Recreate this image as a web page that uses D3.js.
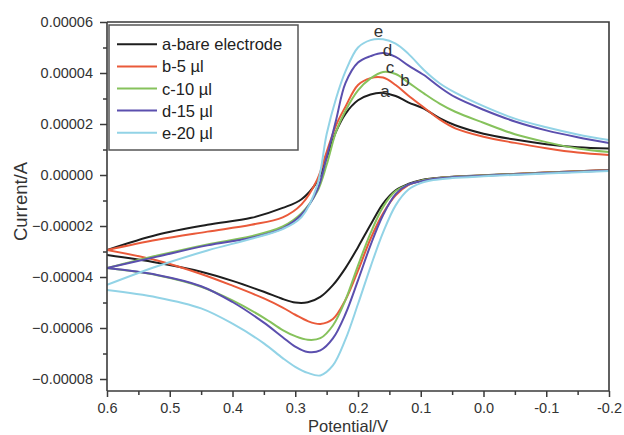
<!DOCTYPE html>
<html>
<head>
<meta charset="utf-8">
<script src="https://cdn.jsdelivr.net/npm/d3@7/dist/d3.min.js"></script>
<style>
  html, body { margin: 0; padding: 0; background: #fff; }
  svg { display: block; font-family: "Liberation Sans", Arial, Helvetica, sans-serif; }
</style>
</head>
<body>
<svg id="chart" width="624" height="435"></svg>
<script>
// Potential grids (V) for the anodic (upper) and cathodic (lower) sweeps
const potentialUpper = [0.6, 0.52, 0.44, 0.37, 0.32, 0.29, 0.265, 0.25, 0.235, 0.22, 0.2, 0.18, 0.16, 0.14, 0.12, 0.095, 0.07, 0.045, 0.0, -0.05, -0.1, -0.15, -0.2];
const potentialLower = [-0.2, -0.1, 0.0, 0.05, 0.08, 0.1, 0.12, 0.14, 0.16, 0.18, 0.2, 0.22, 0.24, 0.26, 0.28, 0.3, 0.32, 0.35, 0.4, 0.45, 0.52, 0.6];

// Current in microamperes for each electrode, upper sweep
const upperA = [-29.4, -23.4, -19.5, -16.8, -12.9, -9.5, -2.5, 6.8, 17.0, 24.0, 29.3, 31.6, 32.2, 31.0, 28.5, 26.0, 22.3, 19.5, 16.2, 13.9, 12.1, 10.9, 10.4];
const upperB = [-29.4, -25.4, -22.2, -19.5, -16.6, -11.5, -1.8, 9.0, 19.5, 26.8, 35.3, 38.0, 38.2, 35.3, 31.2, 26.5, 21.8, 18.3, 15.0, 12.6, 10.5, 8.8, 7.8];
const upperC = [-36.5, -31.6, -27.2, -24.0, -20.2, -15.0, -6.5, 4.0, 17.0, 25.2, 33.2, 37.9, 40.4, 39.6, 36.3, 32.0, 28.0, 24.8, 20.5, 16.0, 12.9, 10.4, 9.0];
const upperD = [-36.5, -32.0, -27.6, -24.6, -20.9, -15.5, -5.9, 7.0, 21.5, 36.0, 44.1, 46.6, 47.8, 46.3, 43.0, 39.2, 34.5, 30.5, 25.6, 21.0, 17.5, 14.8, 12.5];
const upperE = [-43.1, -35.8, -29.6, -25.0, -21.2, -16.5, -4.0, 16.0, 30.0, 40.6, 50.0, 52.9, 53.2, 51.5, 47.6, 41.2, 36.0, 32.3, 27.0, 22.1, 18.7, 15.9, 13.7];

// Current in microamperes for each electrode, lower sweep
const lowerA = [2.0, 1.0, -0.1, -0.7, -1.3, -2.0, -3.5, -6.0, -11.2, -19.5, -28.3, -36.5, -43.2, -47.8, -49.9, -50.0, -48.6, -45.8, -41.5, -37.9, -34.4, -31.4];
const lowerB = [2.0, 1.0, -0.2, -0.8, -1.5, -2.3, -4.0, -8.0, -15.0, -25.0, -37.5, -49.0, -56.5, -58.4, -57.3, -54.8, -52.0, -48.4, -43.4, -38.8, -33.5, -29.4];
const lowerC = [1.8, 0.9, -0.2, -0.8, -1.5, -2.3, -3.8, -6.3, -12.5, -22.8, -35.5, -49.0, -59.0, -64.0, -64.6, -63.2, -60.8, -56.0, -49.2, -43.8, -39.3, -36.5];
const lowerD = [1.8, 0.8, -0.3, -0.9, -1.6, -2.5, -3.8, -7.5, -15.7, -27.5, -41.3, -54.5, -64.1, -68.8, -69.4, -67.3, -63.6, -57.9, -49.8, -43.6, -39.2, -36.5];
const lowerE = [1.6, 0.6, -0.5, -1.2, -2.0, -3.2, -5.8, -11.9, -22.5, -36.0, -50.6, -64.5, -74.7, -78.6, -77.6, -75.2, -71.8, -66.0, -58.3, -52.3, -48.0, -45.1];

const seriesNames = ["a-bare electrode", "b-5 µl", "c-10 µl", "d-15 µl", "e-20 µl"];
const peakTags = ["a", "b", "c", "d", "e"];
const seriesColors = ["#1e1e1e", "#ea5a3a", "#86c25c", "#5b4fae", "#92d3e6"];

const yTickValues = [-0.00008, -0.00006, -0.00004, -0.00002, 0, 0.00002, 0.00004, 0.00006];
const xTickValues = [0.6, 0.5, 0.4, 0.3, 0.2, 0.1, 0.0, -0.1, -0.2];

const upperSets = [upperA, upperB, upperC, upperD, upperE];
const lowerSets = [lowerA, lowerB, lowerC, lowerD, lowerE];
const series = seriesNames.map((name, i) => ({
  name,
  tag: peakTags[i],
  color: seriesColors[i],
  upper: potentialUpper.map((v, k) => ({ v, i: upperSets[i][k] * 1e-6 })),
  lower: potentialLower.map((v, k) => ({ v, i: lowerSets[i][k] * 1e-6 }))
}));

const svg = d3.select("#chart");
const plot = { left: 107, right: 609, top: 22, bottom: 391 };

const x = d3.scaleLinear().domain([0.6, -0.2]).range([plot.left, plot.right]);
const y = d3.scaleLinear().domain([-0.0000847, 0.00006]).range([plot.bottom, plot.top]);

const axisColor = "#3a3a3a";
const tickFont = 14.5;

// clip for curves
svg.append("defs").append("clipPath").attr("id", "plotClip")
  .append("rect")
  .attr("x", plot.left).attr("y", plot.top)
  .attr("width", plot.right - plot.left).attr("height", plot.bottom - plot.top);

// smooth curve through every sample of a sweep
const line = d3.line()
  .x(d => x(d.v))
  .y(d => y(d.i))
  .curve(d3.curveCatmullRom.alpha(0.5));

const curves = svg.append("g").attr("clip-path", "url(#plotClip)");
series.forEach(s => {
  [s.upper, s.lower].forEach(branch => {
    curves.append("path").datum(branch)
      .attr("d", line).attr("fill", "none")
      .attr("stroke", s.color).attr("stroke-width", 2)
      .attr("stroke-linejoin", "round");
  });
});

// frame: top and right border
svg.append("path")
  .attr("d", `M${plot.left},${plot.top}H${plot.right}V${plot.bottom}`)
  .attr("fill", "none").attr("stroke", axisColor).attr("stroke-width", 1.6);

// minor ticks
const yMinor = d3.range(-0.00007, 0.00006, 0.00002);
const xMinor = d3.range(0.55, -0.2, -0.1);

const yMinorAxis = d3.axisLeft(y).tickValues(yMinor).tickSize(4).tickFormat("");
const xMinorAxis = d3.axisBottom(x).tickValues(xMinor).tickSize(4).tickFormat("");

svg.append("g").attr("transform", `translate(${plot.left},0)`).call(yMinorAxis)
  .call(g => g.select(".domain").remove())
  .call(g => g.selectAll("line").attr("stroke", axisColor).attr("stroke-width", 1.5));
svg.append("g").attr("transform", `translate(0,${plot.bottom})`).call(xMinorAxis)
  .call(g => g.select(".domain").remove())
  .call(g => g.selectAll("line").attr("stroke", axisColor).attr("stroke-width", 1.5));

// major axes
const yAxis = d3.axisLeft(y).tickValues(yTickValues).tickSize(7).tickPadding(7)
  .tickFormat(d3.format(".5f"));
const xAxis = d3.axisBottom(x).tickValues(xTickValues).tickSize(6).tickPadding(6)
  .tickFormat(d => d3.format(".1f")(d).replace("−", "-"));

const gy = svg.append("g").attr("transform", `translate(${plot.left},0)`).call(yAxis);
const gx = svg.append("g").attr("transform", `translate(0,${plot.bottom})`).call(xAxis);
[gy, gx].forEach(g => {
  g.select(".domain").attr("stroke", axisColor).attr("stroke-width", 1.6)
    .attr("d", g === gy
      ? `M0,${plot.top}V${plot.bottom}`
      : `M${plot.left},0H${plot.right}`);
  g.selectAll(".tick line").attr("stroke", axisColor).attr("stroke-width", 1.5);
  g.selectAll(".tick text").attr("fill", "#333").attr("font-size", tickFont)
    .attr("font-family", "Liberation Sans, Arial, sans-serif");
});

// axis titles
svg.append("text")
  .attr("x", 348).attr("y", 431.5)
  .attr("text-anchor", "middle")
  .attr("font-size", 16.5).attr("fill", "#333")
  .text("Potential/V");
svg.append("text")
  .attr("transform", `translate(27,${(plot.top + plot.bottom) / 2 - 5}) rotate(-90)`)
  .attr("text-anchor", "middle")
  .attr("font-size", 18.5).attr("fill", "#333")
  .text("Current/A");

// peak tags, placed near the anodic peak of each curve
const tagOffsets = { a: [2, 4], b: [22, 8], c: [7, 1], d: [4.5, 3], e: [-4.5, -2] };
series.forEach(s => {
  const peak = s.upper.reduce((m, d) => (d.i > m.i ? d : m), s.upper[0]);
  const [dx, dy] = tagOffsets[s.tag];
  svg.append("text")
    .attr("x", x(peak.v) + dx).attr("y", y(peak.i) + dy)
    .attr("text-anchor", "middle")
    .attr("font-size", 17).attr("fill", "#333")
    .text(s.tag);
});

// legend
const legend = svg.append("g");
legend.append("rect")
  .attr("x", 109).attr("y", 25).attr("width", 189).attr("height", 125)
  .attr("fill", "#fff").attr("stroke", "#555").attr("stroke-width", 1.5);
series.forEach((s, i) => {
  const cy = 44.3 + i * 22.1;
  legend.append("line")
    .attr("x1", 117).attr("x2", 157).attr("y1", cy).attr("y2", cy)
    .attr("stroke", s.color).attr("stroke-width", 2);
  legend.append("text")
    .attr("x", 162).attr("y", cy + 6)
    .attr("font-size", 16.5).attr("fill", "#222")
    .text(s.name);
});
</script>
</body>
</html>
